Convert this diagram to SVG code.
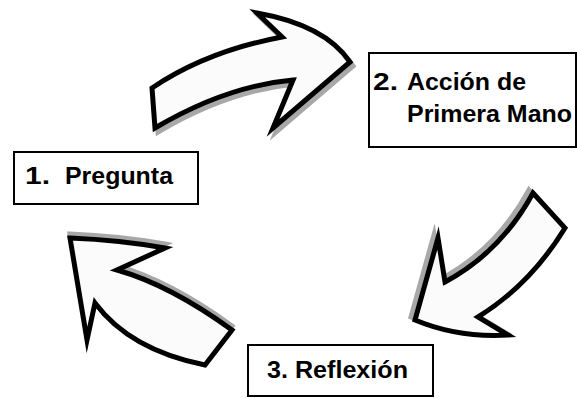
<svg xmlns="http://www.w3.org/2000/svg" width="577" height="398" viewBox="0 0 577 398">
<style>
.box{fill:#fff;stroke:#000;stroke-width:2}
.lbl{font-family:"Liberation Sans",Arial,sans-serif;font-weight:bold;font-size:23px;fill:#000}
.arr{fill:#fbfbfb;stroke:#000;stroke-width:5;stroke-linejoin:miter;stroke-miterlimit:10}
.sh{fill:#a8a8a8;stroke:#a8a8a8;stroke-width:5;stroke-linejoin:miter;stroke-miterlimit:10}
</style>
<rect width="577" height="398" fill="#fff"/>
<g id="connectors">
  <g id="arrow-top">
    <path class="sh" transform="translate(3,4)" d="M155,128 L152,88 Q207,51 282,37 L257,13 Q325,25 350,62 L273,128 L293,80 Q226,86 155,128 Z"/>
    <path class="arr" d="M155,128 L152,88 Q207,51 282,37 L257,13 Q325,25 350,62 L273,128 L293,80 Q226,86 155,128 Z"/>
  </g>
  <g id="arrow-right">
    <path class="sh" transform="translate(-4,-3)" d="M533,193 L565,228 Q530,285 478,317 L508,335 Q458,338 415,320 L438,238 L445,282 Q501,252 533,193 Z"/>
    <path class="arr" d="M533,193 L565,228 Q530,285 478,317 L508,335 Q458,338 415,320 L438,238 L445,282 Q501,252 533,193 Z"/>
  </g>
  <g id="arrow-left">
    <path class="sh" transform="translate(0,-4)" d="M70,238 Q120,240 165,248 L117,270 Q170,285 232,330 L205,365 Q130,350 95,303 L87,340 Z"/>
    <path class="arr" d="M70,238 Q120,240 165,248 L117,270 Q170,285 232,330 L205,365 Q130,350 95,303 L87,340 Z"/>
  </g>
</g>
<g id="node-1">
  <rect class="box" x="14" y="152" width="184" height="52"/>
  <text class="lbl" x="25" y="184" textLength="25" lengthAdjust="spacingAndGlyphs">1.</text>
  <text class="lbl" x="65" y="184" textLength="108" lengthAdjust="spacingAndGlyphs">Pregunta</text>
</g>
<g id="node-2">
  <rect class="box" x="369" y="53" width="207" height="94"/>
  <text class="lbl" x="373" y="90" textLength="25" lengthAdjust="spacingAndGlyphs">2.</text>
  <text class="lbl" x="407" y="90" textLength="119" lengthAdjust="spacingAndGlyphs">Acción de</text>
  <text class="lbl" x="407" y="122" textLength="165" lengthAdjust="spacingAndGlyphs">Primera Mano</text>
</g>
<g id="node-3">
  <rect class="box" x="248" y="345" width="185" height="51"/>
  <text class="lbl" x="267" y="378" textLength="141" lengthAdjust="spacingAndGlyphs">3. Reflexión</text>
</g>
</svg>
